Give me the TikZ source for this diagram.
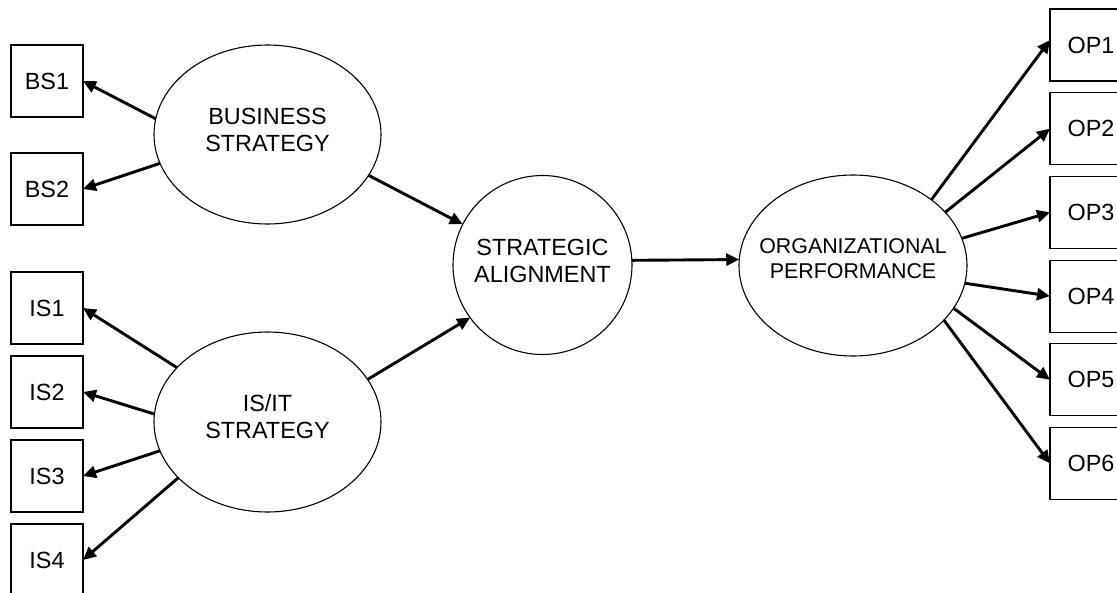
\documentclass[tikz,border=0pt]{standalone}
\usepackage{fontspec}
\setmainfont{Liberation Sans}
\usetikzlibrary{shapes.geometric,arrows.meta}
\begin{document}
\begin{tikzpicture}[x=1pt,y=-1pt,
  latent/.style={draw,ellipse,line width=1.1pt,inner sep=0pt,outer sep=0pt},
  latentlabel/.style={inner sep=0pt,align=center,font=\fontsize{23.4}{27}\selectfont},
  indicator/.style={draw,rectangle,line width=1.2pt,inner sep=0pt,outer sep=0pt,
    minimum width=72pt,minimum height=72pt,font=\fontsize{23.4}{27}\selectfont},
  outindicator/.style={indicator,minimum width=82pt},
  load/.style={line width=2.9pt,-{Triangle[length=13pt,width=12pt]}}]
\clip (0,0) rectangle (1117,592);
\fill[white] (0,0) rectangle (1117,592);

% latent constructs
\node[latent,minimum width=227pt,minimum height=179pt] (bs) at (267.5,134.5) {};
\node[latent,minimum width=227pt,minimum height=180pt] (is) at (267.5,422) {};
\node[latent,minimum width=179pt,minimum height=179pt] (sa) at (542.5,265) {};
\node[latent,minimum width=228pt,minimum height=181pt] (op) at (853,265.5) {};

\node[latentlabel] (bslabel) at ([yshift=5pt]bs.center) {BUSINESS\\STRATEGY};
\node[latentlabel] (islabel) at ([yshift=5pt]is.center) {IS/IT\\STRATEGY};
\node[latentlabel] (salabel) at ([yshift=4pt]sa.center) {STRATEGIC\\ALIGNMENT};
\node[latentlabel,font=\fontsize{21.4}{25}\selectfont] (oplabel) at ([yshift=7pt]op.center) {ORGANIZATIONAL\\PERFORMANCE};

% indicators on the left
\node[indicator] (bs1) at (47,81) {BS1};
\node[indicator] (bs2) at (47,189) {BS2};
\node[indicator] (is1) at (47,308) {IS1};
\node[indicator] (is2) at (47,392) {IS2};
\node[indicator] (is3) at (47,476) {IS3};
\node[indicator] (is4) at (47,560) {IS4};

% indicators on the right
\node[outindicator] (op1) at (1091,45) {OP1};
\node[outindicator] (op2) at (1091,128.7) {OP2};
\node[outindicator] (op3) at (1091,212.4) {OP3};
\node[outindicator] (op4) at (1091,296.1) {OP4};
\node[outindicator] (op5) at (1091,379.8) {OP5};
\node[outindicator] (op6) at (1091,463.5) {OP6};

% measurement paths
\draw[load] (bs.172) -- (bs1.east);
\draw[load] (bs.195) -- (bs2.east);
\draw[load] (is.149) -- (is1.east);
\draw[load] (is.176) -- (is2.east);
\draw[load] (is.195) -- (is3.east);
\draw[load] (is.212) -- (is4.east);

\draw[load] (op.40) -- ([yshift=5pt]op1.west);
\draw[load] (op.30) -- (op2.west);
\draw[load] (op.14) -- (op3.west);
\draw[load] (op.-9) -- (op4.west);
\draw[load] (op.-23) -- (op5.west);
\draw[load] (op.-31) -- (op6.west);

% structural paths
\draw[load] (bs.-22) -- (sa.153);
\draw[load] (is.23) -- (sa.216);
\draw[load] (sa.3.2) -- (op.177.2);
\end{tikzpicture}
\end{document}
